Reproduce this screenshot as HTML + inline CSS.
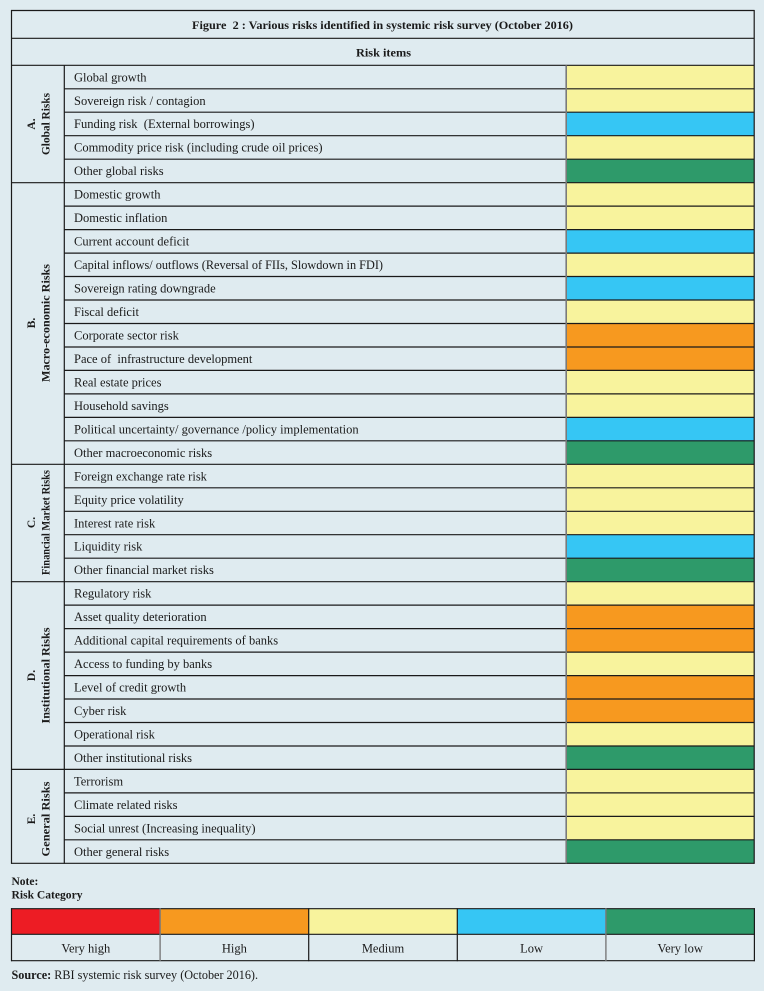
<!DOCTYPE html>
<html><head><meta charset="utf-8">
<style>
html,body{margin:0;padding:0;background:#dfebf0;}
svg{display:block;}
text{font-family:"Liberation Serif",serif;fill:#1a1a1a;}
.b{font-weight:bold;}
.r{font-size:12.5px;}
</style></head>
<body>
<svg width="764" height="991" viewBox="0 0 764 991" xmlns="http://www.w3.org/2000/svg">
<rect x="0" y="0" width="764" height="991" fill="#dfebf0"/>
<!-- color cells -->
<g>
<rect x="567" y="65.3" width="187" height="23.5" fill="#f8f39d"/>
<rect x="567" y="88.8" width="187" height="23.5" fill="#f8f39d"/>
<rect x="567" y="112.2" width="187" height="23.5" fill="#36c6f4"/>
<rect x="567" y="135.7" width="187" height="23.5" fill="#f8f39d"/>
<rect x="567" y="159.2" width="187" height="23.5" fill="#2e9a6a"/>
<rect x="567" y="182.7" width="187" height="23.5" fill="#f8f39d"/>
<rect x="567" y="206.1" width="187" height="23.5" fill="#f8f39d"/>
<rect x="567" y="229.6" width="187" height="23.5" fill="#36c6f4"/>
<rect x="567" y="253.1" width="187" height="23.5" fill="#f8f39d"/>
<rect x="567" y="276.5" width="187" height="23.5" fill="#36c6f4"/>
<rect x="567" y="300.0" width="187" height="23.5" fill="#f8f39d"/>
<rect x="567" y="323.5" width="187" height="23.5" fill="#f7991f"/>
<rect x="567" y="347.0" width="187" height="23.5" fill="#f7991f"/>
<rect x="567" y="370.4" width="187" height="23.5" fill="#f8f39d"/>
<rect x="567" y="393.9" width="187" height="23.5" fill="#f8f39d"/>
<rect x="567" y="417.4" width="187" height="23.5" fill="#36c6f4"/>
<rect x="567" y="440.8" width="187" height="23.5" fill="#2e9a6a"/>
<rect x="567" y="464.3" width="187" height="23.5" fill="#f8f39d"/>
<rect x="567" y="487.8" width="187" height="23.5" fill="#f8f39d"/>
<rect x="567" y="511.3" width="187" height="23.5" fill="#f8f39d"/>
<rect x="567" y="534.7" width="187" height="23.5" fill="#36c6f4"/>
<rect x="567" y="558.2" width="187" height="23.5" fill="#2e9a6a"/>
<rect x="567" y="581.7" width="187" height="23.5" fill="#f8f39d"/>
<rect x="567" y="605.1" width="187" height="23.5" fill="#f7991f"/>
<rect x="567" y="628.6" width="187" height="23.5" fill="#f7991f"/>
<rect x="567" y="652.1" width="187" height="23.5" fill="#f8f39d"/>
<rect x="567" y="675.6" width="187" height="23.5" fill="#f7991f"/>
<rect x="567" y="699.0" width="187" height="23.5" fill="#f7991f"/>
<rect x="567" y="722.5" width="187" height="23.5" fill="#f8f39d"/>
<rect x="567" y="746.0" width="187" height="23.5" fill="#2e9a6a"/>
<rect x="567" y="769.4" width="187" height="23.5" fill="#f8f39d"/>
<rect x="567" y="792.9" width="187" height="23.5" fill="#f8f39d"/>
<rect x="567" y="816.4" width="187" height="23.5" fill="#f8f39d"/>
<rect x="567" y="839.8" width="187" height="23.5" fill="#2e9a6a"/>
</g>
<!-- lines -->
<g stroke="#1a1a1a" stroke-width="1.2" fill="none">
<line x1="11" y1="10.5" x2="754.5" y2="10.5"/>
<line x1="11" y1="38.3" x2="754.5" y2="38.3"/>
<line x1="11" y1="65.3" x2="754.5" y2="65.3"/>
<line x1="64" y1="88.8" x2="754.5" y2="88.8"/>
<line x1="64" y1="112.2" x2="754.5" y2="112.2"/>
<line x1="64" y1="135.7" x2="754.5" y2="135.7"/>
<line x1="64" y1="159.2" x2="754.5" y2="159.2"/>
<line x1="11" y1="182.7" x2="754.5" y2="182.7"/>
<line x1="64" y1="206.1" x2="754.5" y2="206.1"/>
<line x1="64" y1="229.6" x2="754.5" y2="229.6"/>
<line x1="64" y1="253.1" x2="754.5" y2="253.1"/>
<line x1="64" y1="276.5" x2="754.5" y2="276.5"/>
<line x1="64" y1="300.0" x2="754.5" y2="300.0"/>
<line x1="64" y1="323.5" x2="754.5" y2="323.5"/>
<line x1="64" y1="347.0" x2="754.5" y2="347.0"/>
<line x1="64" y1="370.4" x2="754.5" y2="370.4"/>
<line x1="64" y1="393.9" x2="754.5" y2="393.9"/>
<line x1="64" y1="417.4" x2="754.5" y2="417.4"/>
<line x1="64" y1="440.8" x2="754.5" y2="440.8"/>
<line x1="11" y1="464.3" x2="754.5" y2="464.3"/>
<line x1="64" y1="487.8" x2="754.5" y2="487.8"/>
<line x1="64" y1="511.3" x2="754.5" y2="511.3"/>
<line x1="64" y1="534.7" x2="754.5" y2="534.7"/>
<line x1="64" y1="558.2" x2="754.5" y2="558.2"/>
<line x1="11" y1="581.7" x2="754.5" y2="581.7"/>
<line x1="64" y1="605.1" x2="754.5" y2="605.1"/>
<line x1="64" y1="628.6" x2="754.5" y2="628.6"/>
<line x1="64" y1="652.1" x2="754.5" y2="652.1"/>
<line x1="64" y1="675.6" x2="754.5" y2="675.6"/>
<line x1="64" y1="699.0" x2="754.5" y2="699.0"/>
<line x1="64" y1="722.5" x2="754.5" y2="722.5"/>
<line x1="64" y1="746.0" x2="754.5" y2="746.0"/>
<line x1="11" y1="769.4" x2="754.5" y2="769.4"/>
<line x1="64" y1="792.9" x2="754.5" y2="792.9"/>
<line x1="64" y1="816.4" x2="754.5" y2="816.4"/>
<line x1="64" y1="839.8" x2="754.5" y2="839.8"/>
<line x1="11" y1="863.3" x2="754.5" y2="863.3"/>
<line x1="11.5" y1="10" x2="11.5" y2="863.8"/>
<line x1="754.2" y1="10" x2="754.2" y2="863.8"/>
<line x1="64.3" y1="65.3" x2="64.3" y2="863.8"/>
</g>
<line x1="566.2" y1="65.3" x2="566.2" y2="863.3" stroke="#7a7a7a" stroke-width="1.6"/>

<!-- headers -->
<text class="b" x="382.5" y="29" font-size="11.5" text-anchor="middle" textLength="381" lengthAdjust="spacingAndGlyphs">Figure&#160;&#160;2 : Various risks identified in systemic risk survey (October 2016)</text>
<text class="b" x="383.5" y="56.5" font-size="11.5" text-anchor="middle" textLength="55" lengthAdjust="spacingAndGlyphs">Risk items</text>

<!-- vertical labels -->
<g class="b" font-size="11.5" text-anchor="middle">
<text transform="translate(35,124) rotate(-90)">A.</text>
<text transform="translate(49.5,124) rotate(-90)" textLength="62" lengthAdjust="spacingAndGlyphs">Global Risks</text>
<text transform="translate(35,323) rotate(-90)">B.</text>
<text transform="translate(49.5,323) rotate(-90)" textLength="118" lengthAdjust="spacingAndGlyphs">Macro-economic Risks</text>
<text transform="translate(35,522.5) rotate(-90)">C.</text>
<text transform="translate(49.5,522.5) rotate(-90)" textLength="105" lengthAdjust="spacingAndGlyphs">Financial Market Risks</text>
<text transform="translate(35,675.5) rotate(-90)">D.</text>
<text transform="translate(49.5,675.5) rotate(-90)" textLength="96" lengthAdjust="spacingAndGlyphs">Institutional Risks</text>
<text transform="translate(35,819) rotate(-90)">E.</text>
<text transform="translate(49.5,819) rotate(-90)" textLength="75" lengthAdjust="spacingAndGlyphs">General Risks</text>
</g>

<!-- row labels -->
<g class="r">
<text x="74" y="81.3">Global growth</text>
<text x="74" y="104.8">Sovereign risk / contagion</text>
<text x="74" y="128.2">Funding risk&#160;&#160;(External borrowings)</text>
<text x="74" y="151.7">Commodity price risk (including crude oil prices)</text>
<text x="74" y="175.2">Other global risks</text>
<text x="74" y="198.7">Domestic growth</text>
<text x="74" y="222.1">Domestic inflation</text>
<text x="74" y="245.6">Current account deficit</text>
<text x="74" y="269.1" textLength="309" lengthAdjust="spacingAndGlyphs">Capital inflows/ outflows (Reversal of FIIs, Slowdown in FDI)</text>
<text x="74" y="292.5">Sovereign rating downgrade</text>
<text x="74" y="316.0">Fiscal deficit</text>
<text x="74" y="339.5">Corporate sector risk</text>
<text x="74" y="363.0">Pace of&#160;&#160;infrastructure development</text>
<text x="74" y="386.4">Real estate prices</text>
<text x="74" y="409.9">Household savings</text>
<text x="74" y="433.4">Political uncertainty/ governance /policy implementation</text>
<text x="74" y="456.8">Other macroeconomic risks</text>
<text x="74" y="480.3">Foreign exchange rate risk</text>
<text x="74" y="503.8">Equity price volatility</text>
<text x="74" y="527.3">Interest rate risk</text>
<text x="74" y="550.7">Liquidity risk</text>
<text x="74" y="574.2">Other financial market risks</text>
<text x="74" y="597.7">Regulatory risk</text>
<text x="74" y="621.1">Asset quality deterioration</text>
<text x="74" y="644.6">Additional capital requirements of banks</text>
<text x="74" y="668.1">Access to funding by banks</text>
<text x="74" y="691.6">Level of credit growth</text>
<text x="74" y="715.0">Cyber risk</text>
<text x="74" y="738.5">Operational risk</text>
<text x="74" y="762.0">Other institutional risks</text>
<text x="74" y="785.4">Terrorism</text>
<text x="74" y="808.9">Climate related risks</text>
<text x="74" y="832.4">Social unrest (Increasing inequality)</text>
<text x="74" y="855.8">Other general risks</text>
</g>

<!-- note -->
<text class="b" x="11.5" y="885" font-size="11.5">Note:</text>
<text class="b" x="11.5" y="898.3" font-size="11.5" textLength="71" lengthAdjust="spacingAndGlyphs">Risk Category</text>

<!-- legend -->
<rect x="11.5" y="908.7" width="148.6" height="25.6" fill="#ed1c24"/>
<rect x="160.1" y="908.7" width="148.6" height="25.6" fill="#f7991f"/>
<rect x="308.7" y="908.7" width="148.6" height="25.6" fill="#f8f39d"/>
<rect x="457.3" y="908.7" width="148.6" height="25.6" fill="#36c6f4"/>
<rect x="605.9" y="908.7" width="148.6" height="25.6" fill="#2e9a6a"/>
<g stroke="#1a1a1a" stroke-width="1.2" fill="none">
<line x1="11" y1="908.7" x2="755" y2="908.7"/>
<line x1="11" y1="934.3" x2="755" y2="934.3"/>
<line x1="11" y1="960.7" x2="755" y2="960.7"/>
<line x1="11.5" y1="908.2" x2="11.5" y2="961.2"/>
<line x1="308.7" y1="908.2" x2="308.7" y2="961.2"/>
<line x1="457.3" y1="908.2" x2="457.3" y2="961.2"/>
<line x1="754.4" y1="908.2" x2="754.4" y2="961.2"/>
</g>
<g stroke="#7a7a7a" stroke-width="1.4">
<line x1="160.1" y1="908.2" x2="160.1" y2="961.2"/>
<line x1="605.9" y1="908.2" x2="605.9" y2="961.2"/>
</g>
<g class="r" text-anchor="middle">
<text x="85.8" y="952.3">Very high</text>
<text x="234.4" y="952.3">High</text>
<text x="383" y="952.3">Medium</text>
<text x="531.6" y="952.3">Low</text>
<text x="680.2" y="952.3">Very low</text>
</g>

<!-- source -->
<text x="11.5" y="979" font-size="12.2"><tspan class="b">Source:</tspan> RBI systemic risk survey (October 2016).</text>
</svg>
</body></html>
